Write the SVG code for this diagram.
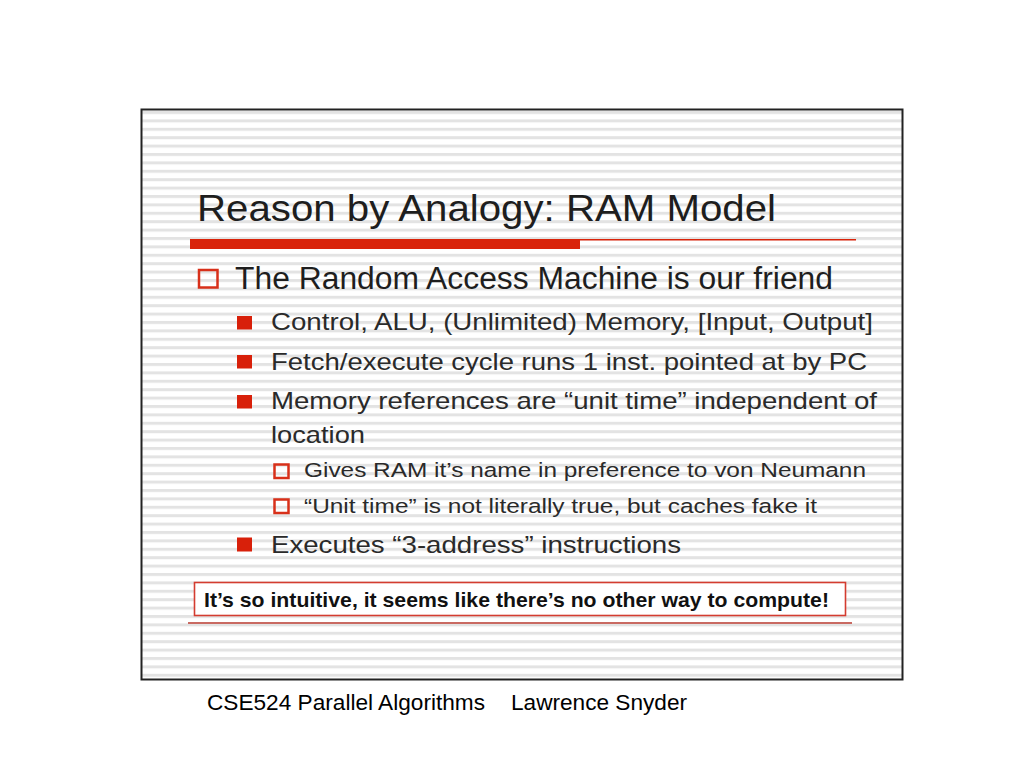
<svg xmlns="http://www.w3.org/2000/svg" width="1024" height="768" viewBox="0 0 1024 768">
  <defs>
    <pattern id="stripes" patternUnits="userSpaceOnUse" x="0" y="111" width="10" height="8.4">
      <rect x="0" y="0" width="10" height="3" fill="#e3e3e3"/>
    </pattern>
  </defs>
  <style>
    text { font-family: "Liberation Sans", Arial, sans-serif; fill: #1e1e1e; }
    .title { font-size: 37px; }
    .l1 { font-size: 31px; }
    .l2 { font-size: 24px; fill: #2a2a2a; }
    .l3 { font-size: 20.5px; fill: #2a2a2a; }
    .box { font-size: 21px; font-weight: bold; fill: #111; }
    .foot { font-size: 22px; fill: #000; }
    .hollow { fill: none; stroke: #d8301a; stroke-width: 2.5; }
    .solid { fill: #d8200a; }
  </style>
  <rect width="1024" height="768" fill="#ffffff"/>
  <g id="slide">
    <rect x="142" y="110" width="760" height="569" fill="#ffffff"/>
    <rect x="142" y="110" width="760" height="569" fill="url(#stripes)"/>
    <rect x="141.5" y="109.5" width="761" height="570" fill="none" stroke="#222" stroke-width="2"/>
  </g>
  <g id="title">
    <text class="title" x="197" y="221" textLength="579" lengthAdjust="spacingAndGlyphs">Reason by Analogy: RAM Model</text>
    <rect x="190" y="239" width="390" height="10" fill="#d9230a"/>
    <line x1="580" y1="239.8" x2="856" y2="239.8" stroke="#d9230a" stroke-width="1.6"/>
  </g>
  <g id="bullet-ram">
    <rect class="hollow" x="199" y="270" width="18.5" height="17.5"/>
    <text class="l1" x="235" y="289" textLength="598" lengthAdjust="spacingAndGlyphs">The Random Access Machine is our friend</text>
  </g>
  <g id="bullet-control">
    <rect class="solid" x="237" y="316" width="15" height="13.5"/>
    <text class="l2" x="271" y="330" textLength="602" lengthAdjust="spacingAndGlyphs">Control, ALU, (Unlimited) Memory, [Input, Output]</text>
  </g>
  <g id="bullet-fetch">
    <rect class="solid" x="237" y="355" width="15" height="13.5"/>
    <text class="l2" x="271" y="370" textLength="596" lengthAdjust="spacingAndGlyphs">Fetch/execute cycle runs 1 inst. pointed at by PC</text>
  </g>
  <g id="bullet-memory">
    <rect class="solid" x="237" y="395" width="15" height="13.5"/>
    <text class="l2" x="271" y="409" textLength="606" lengthAdjust="spacingAndGlyphs">Memory references are “unit time” independent of</text>
    <text class="l2" x="271" y="443" textLength="94" lengthAdjust="spacingAndGlyphs">location</text>
  </g>
  <g id="sub-gives">
    <rect class="hollow" x="274.5" y="464.5" width="14" height="13.5"/>
    <text class="l3" x="304" y="477" textLength="562" lengthAdjust="spacingAndGlyphs">Gives RAM it’s name in preference to von Neumann</text>
  </g>
  <g id="sub-unit">
    <rect class="hollow" x="274.5" y="499.5" width="14" height="13.5"/>
    <text class="l3" x="304" y="512.5" textLength="513" lengthAdjust="spacingAndGlyphs">“Unit time” is not literally true, but caches fake it</text>
  </g>
  <g id="bullet-executes">
    <rect class="solid" x="237" y="537.5" width="15" height="14"/>
    <text class="l2" x="271" y="553" textLength="410" lengthAdjust="spacingAndGlyphs">Executes “3-address” instructions</text>
  </g>
  <g id="callout">
    <rect x="194.5" y="582.5" width="651" height="33" fill="#ffffff" stroke="#d43c30" stroke-width="1.6"/>
    <text class="box" x="204" y="607" textLength="625" lengthAdjust="spacingAndGlyphs">It’s so intuitive, it seems like there’s no other way to compute!</text>
    <line x1="188" y1="623" x2="852" y2="623" stroke="#c96a62" stroke-width="2"/>
  </g>
  <g id="footer">
    <text class="foot" x="207" y="710" textLength="278" lengthAdjust="spacingAndGlyphs">CSE524 Parallel Algorithms</text>
    <text class="foot" x="511" y="710" textLength="176" lengthAdjust="spacingAndGlyphs">Lawrence Snyder</text>
  </g>
  <g id="connectors"/>
</svg>
